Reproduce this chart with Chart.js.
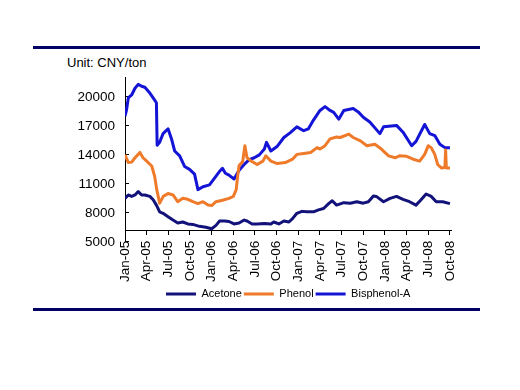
<!DOCTYPE html>
<html>
<head>
<meta charset="utf-8">
<script src="https://cdn.jsdelivr.net/npm/chart.js@4.4.1/dist/chart.umd.min.js"></script>
<style>
  html, body { margin: 0; padding: 0; background: #fff; }
  #wrap { position: relative; width: 520px; height: 390px; }
  canvas { position: absolute; left: 0; top: 0; }
  .rule { position: absolute; left: 33px; width: 447px; height: 3px; background: #000066; }
  #unit { position: absolute; left: 67px; top: 56px; font: 13px "Liberation Sans", Arial, sans-serif; line-height: 13px; color: #000; }
</style>
</head>
<body>
<div id="wrap">
  <div class="rule" style="top:46px"></div>
  <div id="unit">Unit: CNY/ton</div>
  <canvas id="chart" width="520" height="390"></canvas>
  <div class="rule" style="top:308px"></div>
</div>
<script>
// x values are months counted from Jan-05 (0 = Jan-05, 45 = Oct-08)
const tickMonths = [0, 3, 6, 9, 12, 15, 18, 21, 24, 27, 30, 33, 36, 39, 42, 45];
const tickLabels = ["Jan-05", "Apr-05", "Jul-05", "Oct-05", "Jan-06", "Apr-06", "Jul-06", "Oct-06",
                    "Jan-07", "Apr-07", "Jul-07", "Oct-07", "Jan-08", "Apr-08", "Jul-08", "Oct-08"];
const yTicks = [5000, 8000, 11000, 14000, 17000, 20000];

// Acetone
const acetoneX = [0, 0.46, 0.92, 1.38, 1.83, 2.3, 2.75, 3.44, 3.9, 4.35, 4.8, 5.27, 5.96, 6.65, 7.3, 8.0, 8.7, 9.4,
  10.3, 11.2, 12.0, 12.6, 13.1, 13.8, 14.4, 15.1, 15.8, 16.5, 16.9, 17.6, 18.3, 19.3, 20.2, 20.6, 21.3, 22.0, 22.7,
  23.2, 23.8, 24.5, 25.2, 26.1, 26.8, 27.5, 28.2, 28.7, 29.3, 30.3, 31.2, 32.1, 33.0, 33.7, 34.4, 34.8, 35.8, 36.7,
  37.6, 38.5, 39.4, 40.3, 41.0, 41.7, 42.4, 43.1, 44.0, 45.0];
const acetoneY = [9500, 9850, 9700, 9850, 10200, 9850, 9850, 9700, 9350, 8800, 8100, 7950, 7600, 7250, 6950, 7050, 6850, 6800,
  6600, 6500, 6350, 6700, 7150, 7150, 7100, 6850, 6950, 7250, 7150, 6850, 6850, 6900, 6850, 7050, 6850, 7150, 7050,
  7400, 7950, 8150, 8100, 8100, 8300, 8450, 8950, 9250, 8800, 9050, 9000, 9150, 9000, 9150, 9750, 9700, 9150, 9500,
  9700, 9400, 9150, 8800, 9350, 9950, 9700, 9150, 9150, 8950];

// Phenol
const phenolX = [0, 0.46, 0.92, 1.38, 1.83, 2.06, 2.5, 3.0, 3.7, 4.1, 4.4, 4.8, 5.3, 5.96, 6.65, 7.3, 8.0, 8.7, 9.4, 10.1,
  10.8, 11.5, 12.0, 12.6, 13.5, 14.4, 15.0, 15.4, 15.6, 15.8, 16.3, 16.6, 16.9, 17.4, 18.3, 19.1, 19.5, 20.2, 21.1,
  22.2, 23.2, 23.8, 24.75, 25.7, 26.6, 27.0, 27.7, 28.4, 29.3, 29.8, 31.0, 31.6, 32.6, 33.5, 34.6, 35.5, 36.5, 37.4,
  38.0, 39.0, 39.9, 40.8, 41.5, 42.0, 42.4, 42.9, 43.3, 43.8, 44.3, 44.4, 44.5, 45.0];
const phenolY = [14000, 13200, 13250, 13700, 14050, 14250, 13700, 13350, 12850, 11800, 10400, 9000, 9700, 10000, 9850, 9150,
  9500, 9400, 9150, 8950, 9150, 8800, 8750, 9150, 9300, 9500, 9700, 10400, 11800, 12900, 13300, 14950, 13700, 13400,
  13000, 13350, 13900, 13350, 13100, 13200, 13550, 14050, 14150, 14250, 14750, 14600, 14950, 15650, 15850, 15800,
  16150, 15800, 15450, 14950, 15100, 14600, 13900, 13700, 13900, 13850, 13550, 13350, 14050, 14950, 14750, 14050,
  13000, 12650, 12700, 14500, 12650, 12650];

// Bisphenol-A
const bpaX = [0, 0.2, 0.46, 0.92, 1.38, 1.83, 2.3, 2.75, 3.44, 3.9, 4.35, 4.45, 4.8, 5.27, 5.96, 6.42, 6.88, 7.57, 8.25,
  8.94, 9.63, 10.1, 10.8, 11.7, 12.4, 13.1, 13.5, 13.9, 14.4, 15.1, 15.8, 16.5, 17.2, 17.9, 18.6, 19.3, 19.6, 20.2,
  21.1, 22.0, 22.9, 23.8, 24.75, 25.4, 26.1, 27.0, 27.7, 28.4, 28.9, 29.6, 30.3, 31.6, 32.3, 33.0, 33.9, 35.3, 35.8,
  37.6, 38.5, 39.7, 40.3, 41.5, 42.2, 42.9, 43.6, 44.3, 45.0];
const bpaY = [18000, 18600, 19900, 20200, 20900, 21300, 21100, 21000, 20400, 19900, 19400, 15000, 15300, 16200, 16700,
  15700, 14400, 13900, 12800, 12500, 12000, 10400, 10700, 10900, 11600, 12300, 12600, 12100, 11900, 11500, 12400,
  13000, 13500, 13700, 14000, 14600, 15300, 14400, 14900, 15800, 16300, 16900, 16500, 16700, 17600, 18600, 19000,
  18600, 18400, 17700, 18600, 18800, 18450, 17900, 17400, 16200, 16900, 17050, 16350, 14950, 15400, 17150, 16200,
  16000, 15100, 14750, 14750];

const toPoints = (xs, ys) => xs.map((x, i) => ({ x: x, y: ys[i] }));
const font = { family: "'Liberation Sans', Arial, sans-serif", size: 13.5 };

new Chart(document.getElementById("chart"), {
  type: "line",
  data: {
    datasets: [
      { label: "Acetone", data: toPoints(acetoneX, acetoneY), borderColor: "#12127a", backgroundColor: "#12127a", borderWidth: 3 },
      { label: "Phenol", data: toPoints(phenolX, phenolY), borderColor: "#ef7b2a", backgroundColor: "#ef7b2a", borderWidth: 3 },
      { label: "Bisphenol-A", data: toPoints(bpaX, bpaY), borderColor: "#1414d6", backgroundColor: "#1414d6", borderWidth: 3 }
    ]
  },
  options: {
    responsive: false,
    animation: false,
    layout: { padding: { left: 65, right: 68.6, top: 77.6, bottom: 80.4 } },
    elements: {
      point: { radius: 0 },
      line: { tension: 0, borderJoinStyle: "round" }
    },
    plugins: {
      tooltip: { enabled: false },
      legend: {
        position: "bottom",
        fullSize: false,
        labels: {
          usePointStyle: true,
          pointStyle: "line",
          pointStyleWidth: 30,
          padding: 2,
          color: "#000",
          font: { family: "'Liberation Sans', Arial, sans-serif", size: 11 }
        }
      }
    },
    scales: {
      x: {
        type: "linear",
        min: 0,
        max: 45.2,
        position: { y: 6150 },
        afterBuildTicks: s => { s.ticks = tickMonths.map(v => ({ value: v })); },
        grid: { drawOnChartArea: false, tickLength: 4, color: "#000" },
        border: { color: "#000", width: 1 },
        ticks: {
          minRotation: 90, maxRotation: 90, autoSkip: false, padding: 6, color: "#000", font: font,
          callback: (v, i) => tickLabels[i]
        }
      },
      // empty axis, only keeps room for the rotated month labels above the legend
      xpad: {
        type: "linear",
        position: "bottom",
        grid: { display: false },
        border: { display: false },
        ticks: { display: false },
        afterFit: s => { s.height = 44.8; }
      },
      y: {
        min: 5000,
        max: 22000,
        afterBuildTicks: s => { s.ticks = yTicks.map(v => ({ value: v })); },
        afterFit: s => { s.width = 60; },
        grid: { drawOnChartArea: false, tickLength: -4, color: "#000" },
        border: { color: "#000", width: 1 },
        ticks: { padding: 14, color: "#000", font: font, callback: v => String(v) }
      }
    }
  }
});
</script>
</body>
</html>
